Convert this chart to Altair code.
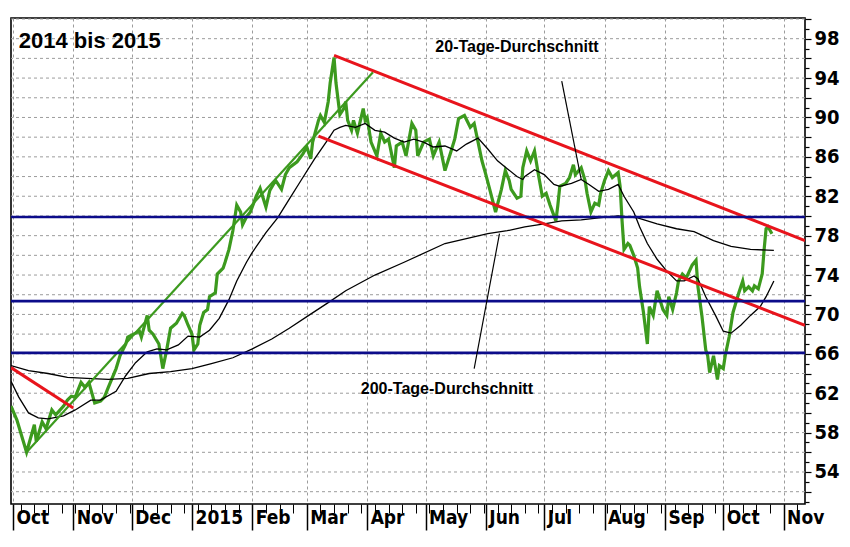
import altair as alt
import pandas as pd

# ---------------- data ----------------
price_dates = [
    "2014-09-30", "2014-10-03", "2014-10-08", "2014-10-12", "2014-10-13", "2014-10-16", "2014-10-18",
    "2014-10-21", "2014-10-23", "2014-10-27", "2014-10-29", "2014-10-31", "2014-11-02", "2014-11-05",
    "2014-11-07", "2014-11-09", "2014-11-12", "2014-11-15", "2014-11-17", "2014-11-19", "2014-11-23",
    "2014-11-25", "2014-11-28", "2014-11-29", "2014-12-02", "2014-12-05", "2014-12-06", "2014-12-09",
    "2014-12-10", "2014-12-12", "2014-12-15", "2014-12-17", "2014-12-19", "2014-12-21", "2014-12-24",
    "2014-12-27", "2014-12-28", "2014-12-30", "2015-01-01", "2015-01-02", "2015-01-04", "2015-01-05",
    "2015-01-07", "2015-01-09", "2015-01-10", "2015-01-13", "2015-01-14", "2015-01-17", "2015-01-18",
    "2015-01-20", "2015-01-22", "2015-01-24", "2015-01-26", "2015-01-27", "2015-01-29", "2015-01-31",
    "2015-02-03", "2015-02-05", "2015-02-08", "2015-02-10", "2015-02-13", "2015-02-16", "2015-02-18",
    "2015-02-20", "2015-02-24", "2015-02-27", "2015-03-01", "2015-03-03", "2015-03-04", "2015-03-07",
    "2015-03-08", "2015-03-10", "2015-03-12", "2015-03-13", "2015-03-15", "2015-03-16", "2015-03-18",
    "2015-03-20", "2015-03-21", "2015-03-22", "2015-03-24", "2015-03-25", "2015-03-27", "2015-03-30",
    "2015-03-31", "2015-04-01", "2015-04-03", "2015-04-06", "2015-04-08", "2015-04-10", "2015-04-12",
    "2015-04-15", "2015-04-16", "2015-04-19", "2015-04-21", "2015-04-24", "2015-04-26", "2015-04-27",
    "2015-04-30", "2015-05-03", "2015-05-05", "2015-05-08", "2015-05-11", "2015-05-14", "2015-05-16",
    "2015-05-18", "2015-05-21", "2015-05-24", "2015-05-26", "2015-05-28", "2015-05-30", "2015-06-01",
    "2015-06-03", "2015-06-06", "2015-06-09", "2015-06-11", "2015-06-13", "2015-06-14", "2015-06-17",
    "2015-06-19", "2015-06-20", "2015-06-22", "2015-06-24", "2015-06-26", "2015-06-28", "2015-06-30",
    "2015-07-02", "2015-07-04", "2015-07-07", "2015-07-08", "2015-07-09", "2015-07-12", "2015-07-14",
    "2015-07-16", "2015-07-17", "2015-07-20", "2015-07-22", "2015-07-23", "2015-07-25", "2015-07-27",
    "2015-07-29", "2015-07-30", "2015-08-01", "2015-08-03", "2015-08-05", "2015-08-08", "2015-08-09",
    "2015-08-10", "2015-08-11", "2015-08-13", "2015-08-14", "2015-08-16", "2015-08-18", "2015-08-19",
    "2015-08-21", "2015-08-23", "2015-08-24", "2015-08-26", "2015-08-28", "2015-08-29", "2015-08-31",
    "2015-09-02", "2015-09-03", "2015-09-05", "2015-09-07", "2015-09-08", "2015-09-10", "2015-09-12",
    "2015-09-15", "2015-09-17", "2015-09-18", "2015-09-20", "2015-09-22", "2015-09-23", "2015-09-24",
    "2015-09-26", "2015-09-28", "2015-09-29", "2015-10-01", "2015-10-02", "2015-10-04", "2015-10-06",
    "2015-10-09", "2015-10-11", "2015-10-12", "2015-10-14", "2015-10-16", "2015-10-17", "2015-10-19",
    "2015-10-21", "2015-10-22", "2015-10-23", "2015-10-24", "2015-10-26",
]
price_values = [
    60.7, 59.3, 56.0, 58.8, 57.1, 59.1, 58.4,
    60.3, 59.8, 60.7, 61.3, 61.7, 61.6, 63.1,
    62.6, 63.1, 61.0, 61.2, 61.6, 62.6, 64.5,
    65.8, 67.0, 67.7, 68.0, 68.3, 67.7, 69.9,
    68.4, 68.0, 67.0, 64.5, 66.4, 68.6, 69.1,
    70.1, 69.9, 68.9, 68.0, 66.4, 67.0, 68.9,
    70.2, 70.5, 71.8, 72.2, 74.1, 74.7, 75.3,
    76.6, 78.5, 81.1, 80.4, 79.1, 79.9, 80.4,
    82.0, 82.8, 80.9, 82.6, 83.6, 82.7, 84.2,
    84.9, 85.5, 86.3, 87.0, 85.8, 87.5, 89.7,
    90.2, 89.5, 91.6, 93.5, 96.1, 93.5, 90.3,
    90.9, 91.6, 89.7, 88.7, 89.7, 88.4, 90.9,
    89.7, 90.0, 87.5, 86.1, 88.4, 87.5, 87.8,
    84.9, 87.1, 87.5, 86.1, 89.4, 88.7, 86.1,
    87.5, 87.8, 86.1, 87.5, 84.6, 86.5, 87.8,
    89.9, 90.2, 89.0, 89.4, 87.5, 85.6, 84.2,
    82.7, 80.4, 82.7, 84.6, 83.6, 82.7, 81.8,
    82.0, 84.9, 86.6, 85.6, 86.6, 84.2, 82.0,
    82.3, 81.1, 79.5, 81.1, 83.0, 83.3, 83.9,
    85.2, 84.2, 84.9, 83.6, 82.3, 80.4, 81.3,
    81.1, 82.3, 83.6, 84.6, 83.9, 84.4, 83.0,
    79.5, 76.6, 77.2, 77.0, 76.0, 74.7, 72.8,
    70.2, 67.0, 70.8, 69.9, 72.4, 71.8, 70.5,
    69.9, 71.8, 70.5, 72.2, 73.4, 74.1, 73.7,
    75.0, 75.5, 72.8, 69.9, 66.4, 65.8, 64.1,
    65.8, 63.4, 64.8, 64.5, 65.8, 67.7, 70.2,
    72.2, 73.4, 72.4, 72.8, 72.4, 72.9, 72.6,
    74.1, 76.6, 78.7, 78.9, 78.2,
]

ma20_dates = [
    "2014-09-30", "2014-10-04", "2014-10-09", "2014-10-14", "2014-10-19", "2014-10-27", "2014-11-02",
    "2014-11-10", "2014-11-15", "2014-11-23", "2014-11-28", "2014-12-03", "2014-12-09", "2014-12-14",
    "2014-12-19", "2014-12-25", "2014-12-30", "2015-01-05", "2015-01-10", "2015-01-15", "2015-01-20",
    "2015-01-24", "2015-01-29", "2015-02-01", "2015-02-08", "2015-02-14", "2015-02-20", "2015-02-26",
    "2015-03-05", "2015-03-12", "2015-03-15", "2015-03-18", "2015-03-21", "2015-03-26", "2015-03-31",
    "2015-04-05", "2015-04-10", "2015-04-15", "2015-04-20", "2015-04-25", "2015-04-30", "2015-05-05",
    "2015-05-11", "2015-05-17", "2015-05-22", "2015-05-28", "2015-06-02", "2015-06-07", "2015-06-12",
    "2015-06-17", "2015-06-20", "2015-06-21", "2015-06-26", "2015-07-01", "2015-07-06", "2015-07-09",
    "2015-07-15", "2015-07-20", "2015-07-24", "2015-07-29", "2015-08-03", "2015-08-08", "2015-08-11",
    "2015-08-16", "2015-08-19", "2015-08-23", "2015-08-28", "2015-09-02", "2015-09-07", "2015-09-11",
    "2015-09-16", "2015-09-18", "2015-09-22", "2015-09-27", "2015-10-01", "2015-10-05", "2015-10-10",
    "2015-10-15", "2015-10-20", "2015-10-23", "2015-10-27",
]
ma20_values = [
    63.2, 61.6, 60.0, 59.5, 59.4, 59.7, 60.3,
    61.3, 61.3, 62.2, 63.8, 65.1, 66.2, 66.5,
    66.4, 66.9, 67.8, 67.7, 68.4, 69.6, 71.5,
    73.4, 75.3, 76.3, 78.3, 79.8, 81.7, 83.6,
    85.8, 87.8, 88.7, 89.0, 89.2, 89.0, 89.4,
    88.7, 88.5, 87.9, 87.5, 87.8, 87.5, 87.0,
    87.1, 86.6, 87.3, 87.9, 86.8, 85.6, 84.8,
    84.0, 83.7, 84.0, 84.7, 84.2, 83.2, 83.0,
    83.3, 83.7, 83.2, 82.5, 82.7, 83.2, 82.0,
    80.4, 78.9, 77.2, 75.6, 74.4, 73.4, 73.4,
    73.9, 73.6, 71.8, 69.9, 68.3, 68.1, 68.9,
    69.9, 70.8, 71.8, 73.4,
]

ma200_dates = [
    "2014-09-30", "2014-10-09", "2014-10-19", "2014-10-29", "2014-11-08", "2014-11-19", "2014-11-29",
    "2014-12-10", "2014-12-21", "2015-01-01", "2015-01-11", "2015-01-22", "2015-02-01", "2015-02-11",
    "2015-02-20", "2015-03-02", "2015-03-12", "2015-03-21", "2015-04-05", "2015-04-20", "2015-05-11",
    "2015-06-02", "2015-06-12", "2015-06-21", "2015-07-01", "2015-07-10", "2015-07-20", "2015-07-29",
    "2015-08-08", "2015-08-18", "2015-08-28", "2015-09-07", "2015-09-16", "2015-09-26", "2015-10-05",
    "2015-10-15", "2015-10-27",
]
ma200_values = [
    64.8, 64.3, 64.0, 63.6, 63.5, 63.4, 63.5,
    64.0, 64.2, 64.5, 65.0, 65.6, 66.5, 67.5,
    68.6, 69.9, 71.2, 72.4, 74.0, 75.3, 77.2,
    78.2, 78.5, 78.9, 79.2, 79.5, 79.6, 79.8,
    80.0, 79.8, 79.2, 78.7, 78.4, 77.5, 76.9,
    76.6, 76.5,
]

# horizontal support / resistance levels (blue)
level_values = [79.9, 71.35, 66.1]

# red trend channel and the short red downtrend
red_start_dates = ["2015-03-15", "2015-03-07", "2014-09-30"]
red_start_values = [96.3, 88.1, 64.6]
red_end_dates = ["2015-11-12", "2015-11-12", "2014-11-01"]
red_end_values = [77.5, 68.9, 60.5]

# green uptrend line
trend_start_dates = ["2014-10-08"]
trend_start_values = [56.0]
trend_end_dates = ["2015-04-04"]
trend_end_values = [94.6]

# annotation pointers
pointer_start_dates = ["2015-07-10", "2015-05-26"]
pointer_start_values = [93.7, 64.5]
pointer_end_dates = ["2015-07-20", "2015-06-08"]
pointer_end_values = [83.7, 78.2]

note_texts = ["20-Tage-Durchschnitt", "200-Tage-Durchschnitt"]
note_dates = ["2015-06-17", "2015-05-12"]
note_values = [97.2, 62.4]

title_text = ["2014 bis 2015"]
title_dates = ["2014-10-04"]
title_values = [97.8]

y_major = list(range(52, 101, 2))   # gridlines, labelled every 4
y_minor = list(range(51, 101, 2))   # small ticks in between

# ---------------- tables ----------------
price = pd.DataFrame({"date": price_dates, "value": price_values})
ma20 = pd.DataFrame({"date": ma20_dates, "value": ma20_values})
ma200 = pd.DataFrame({"date": ma200_dates, "value": ma200_values})
levels = pd.DataFrame({"value": level_values})
hgrid = pd.DataFrame({"value": y_major})
reds = pd.DataFrame({"date": red_start_dates, "value": red_start_values,
                     "date2": red_end_dates, "value2": red_end_values})
trend = pd.DataFrame({"date": trend_start_dates, "value": trend_start_values,
                      "date2": trend_end_dates, "value2": trend_end_values})
pointers = pd.DataFrame({"date": pointer_start_dates, "value": pointer_start_values,
                         "date2": pointer_end_dates, "value2": pointer_end_values})
notes = pd.DataFrame({"date": note_dates, "value": note_values, "text": note_texts})
title_df = pd.DataFrame({"date": title_dates, "value": title_values, "text": title_text})

t0 = int(pd.Timestamp("2014-09-30").value // 10**6)
t1 = int(pd.Timestamp("2015-11-12").value // 10**6)
xs = alt.Scale(type="utc", domain=[t0, t1], nice=False)
ys = alt.Scale(domain=[50.75, 100.1], nice=False, zero=False)

AXIS_FONT = "Liberation Sans Narrow, Arial Narrow, DejaVu Sans Condensed, sans-serif"
GRID_COLOR = "#9c9c9c"

month_axis = alt.Axis(
    orient="bottom", title=None, domain=False,
    tickCount={"interval": "month", "step": 1},
    labelExpr="utcFormat(datum.value, '%m') == '01' ? utcFormat(datum.value, '%Y') : utcFormat(datum.value, '%b')",
    tickSize=26, tickWidth=1.5, tickColor="black",
    labelAlign="left", labelBaseline="top", labelPadding=-22, labelOffset=3,
    labelFont=AXIS_FONT, labelFontSize=19, labelFontWeight="bold", labelColor="black",
    labelFlush=False, labelOverlap=False, labelBound=False,
    grid=True, gridColor=GRID_COLOR, gridDash=[3, 3], gridWidth=1,
)
week_axis = alt.Axis(
    orient="bottom", title=None, domain=False, grid=False,
    tickCount={"interval": "week", "step": 1},
    labelExpr="''",
    tickSize=9, tickWidth=1, tickColor="black",
)
y_label_axis = alt.Axis(
    orient="right", title=None, domain=False, grid=False,
    values=y_major, tickSize=6, tickWidth=1.2, tickColor="black",
    labelExpr="datum.value % 4 == 2 ? datum.label : ''",
    labelPadding=3, labelFont=AXIS_FONT, labelFontSize=20, labelFontWeight="bold",
    labelColor="black", labelOverlap=False, labelBound=False, labelFlush=False,
)
y_minor_axis = alt.Axis(
    orient="right", title=None, domain=False, grid=False,
    values=y_minor, tickSize=4, tickWidth=1.2, tickColor="black",
    labelExpr="''",
)

GREEN = "#3c9a1e"
RED = "#e8141c"
BLUE = "#0c0c8a"

hgrid_layer = alt.Chart(hgrid).mark_rule(color=GRID_COLOR, strokeWidth=1, strokeDash=[3, 3]).encode(
    y=alt.Y("value:Q", scale=ys, axis=None),
)
price_layer = alt.Chart(price).mark_line(color=GREEN, strokeWidth=3.2, clip=True).encode(
    x=alt.X("date:T", scale=xs, axis=month_axis),
    y=alt.Y("value:Q", scale=ys, axis=y_label_axis),
)
ma200_layer = alt.Chart(ma200).mark_line(color="black", strokeWidth=1.3, clip=True).encode(
    x=alt.X("date:T", scale=xs, axis=week_axis),
    y=alt.Y("value:Q", scale=ys, axis=y_minor_axis),
)
ma20_layer = alt.Chart(ma20).mark_line(color="black", strokeWidth=1.3, clip=True).encode(
    x=alt.X("date:T", scale=xs, axis=None),
    y=alt.Y("value:Q", scale=ys, axis=None),
)
trend_layer = alt.Chart(trend).mark_rule(color=GREEN, strokeWidth=2.2, clip=True).encode(
    x=alt.X("date:T", scale=xs, axis=None), x2="date2:T",
    y=alt.Y("value:Q", scale=ys, axis=None), y2="value2:Q",
)
red_layer = alt.Chart(reds).mark_rule(color=RED, strokeWidth=3, clip=True).encode(
    x=alt.X("date:T", scale=xs, axis=None), x2="date2:T",
    y=alt.Y("value:Q", scale=ys, axis=None), y2="value2:Q",
)
level_layer = alt.Chart(levels).mark_rule(color=BLUE, strokeWidth=2.6).encode(
    y=alt.Y("value:Q", scale=ys, axis=None),
)
pointer_layer = alt.Chart(pointers).mark_rule(color="black", strokeWidth=1.2, clip=True).encode(
    x=alt.X("date:T", scale=xs, axis=None), x2="date2:T",
    y=alt.Y("value:Q", scale=ys, axis=None), y2="value2:Q",
)
note_layer = alt.Chart(notes).mark_text(
    font="Liberation Sans", fontSize=16, fontWeight="bold", color="black",
    align="center", baseline="middle",
).encode(
    x=alt.X("date:T", scale=xs, axis=None),
    y=alt.Y("value:Q", scale=ys, axis=None),
    text="text:N",
)
title_layer = alt.Chart(title_df).mark_text(
    font="Liberation Sans", fontSize=22, fontWeight="bold", color="black",
    align="left", baseline="middle",
).encode(
    x=alt.X("date:T", scale=xs, axis=None),
    y=alt.Y("value:Q", scale=ys, axis=None),
    text="text:N",
)

chart = alt.layer(
    hgrid_layer, price_layer, ma200_layer, ma20_layer, trend_layer, red_layer,
    level_layer, pointer_layer, note_layer, title_layer,
).resolve_axis(x="independent", y="independent").properties(
    width=834, height=524,
    autosize=alt.AutoSizeParams(type="fit", contains="padding"),
    padding={"left": 1, "top": 1, "right": 2, "bottom": 1},
    background="white",
).configure_view(stroke="black", strokeWidth=1.6)

chart.save("out.html", embed_options={"renderer": "svg", "actions": False})
